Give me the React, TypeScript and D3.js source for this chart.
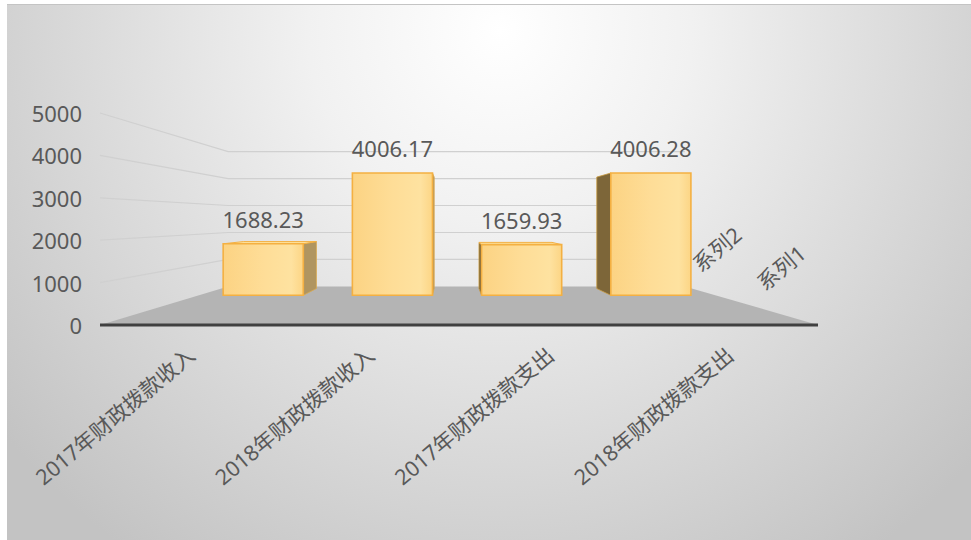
import React from 'react';
import * as d3 from 'd3';

const categories = ['2017年财政拨款收入', '2018年财政拨款收入', '2017年财政拨款支出', '2018年财政拨款支出'];
const seriesNames = ['系列1', '系列2'];
const series2Values = [1688.23, 4006.17, 1659.93, 4006.28];
const yTicks = [0, 1000, 2000, 3000, 4000, 5000];

const W = 971;
const H = 540;
const FONT = "'Noto Sans', 'Noto Sans CJK SC', sans-serif";
const TEXT = '#595959';

export default function App() {
  const x = d3.scaleBand<string>().domain(categories).range([100, 818]);
  const y = d3.scaleLinear().domain([0, 5000]).range([325, 113]);
  const zBack = 1 / 0.636 - 1;
  const z = d3.scaleBand<string>().domain(seriesNames).range([0, zBack]);
  const VP = [452, 219];
  const proj = (X: number, V: number, Z: number): [number, number] => {
    const s = 1 / (1 + Z);
    return [VP[0] + s * (X - VP[0]), VP[1] + s * (y(V) - VP[1])];
  };
  const poly = (pts: [number, number][]) => pts.map((p) => p[0].toFixed(2) + ',' + p[1].toFixed(2)).join(' ');
  const X0 = 100, X1 = 818;

  const floor = poly([proj(X0, 0, 0), proj(X1, 0, 0), proj(X1, 0, zBack), proj(X0, 0, zBack)]);

  const bw = x.bandwidth();
  const zb = z.bandwidth();
  const bars = categories.map((c, i) => {
    const v = series2Values[i];
    const a = (x(c) as number) + bw * 0.19;
    const b = a + bw * 0.62;
    const z0 = (z('系列2') as number) + zb * 0.36;
    const z1 = z0 + zb * 0.47;
    const front = [proj(a, 0, z0), proj(b, 0, z0), proj(b, v, z0), proj(a, v, z0)] as [number, number][];
    const top = [proj(a, v, z0), proj(b, v, z0), proj(b, v, z1), proj(a, v, z1)] as [number, number][];
    const left = [proj(a, 0, z0), proj(a, v, z0), proj(a, v, z1), proj(a, 0, z1)] as [number, number][];
    const right = [proj(b, 0, z0), proj(b, v, z0), proj(b, v, z1), proj(b, 0, z1)] as [number, number][];
    return {
      c, v, front, top, left, right,
      showTop: y(v) > VP[1],
      showLeft: a > VP[0],
      showRight: b < VP[0],
      labelX: (front[2][0] + front[3][0]) / 2,
      labelY: front[3][1] - 16,
    };
  });

  const seriesLabels = seriesNames.map((s) => {
    const zc = (z(s) as number) + zb / 2;
    const p = proj(X1, 0, zc);
    return { s, x: p[0] - 7, y: p[1] - 20 };
  });

  return (
    <svg width={W} height={H} style={{ position: 'absolute', left: 0, top: 0 }} fontFamily={FONT}>
      <defs>
        <radialGradient id="bg" gradientUnits="userSpaceOnUse" cx={500} cy={30} r={640}>
          <stop offset="0" stopColor="#ffffff" />
          <stop offset="0.3" stopColor="#f1f1f1" />
          <stop offset="1" stopColor="#c3c3c3" />
        </radialGradient>
        <linearGradient id="front" x1="0" x2="1" y1="0" y2="0">
          <stop offset="0" stopColor="#fcd383" />
          <stop offset="0.5" stopColor="#fedd97" />
          <stop offset="0.85" stopColor="#fee2a0" />
          <stop offset="1" stopColor="#fcd585" />
        </linearGradient>
      </defs>
      <rect x={0} y={0} width={W} height={H} fill="#ffffff" />
      <rect x={7} y={4} width={W - 7} height={H - 4} fill="url(#bg)" />
      <line x1={7} x2={W} y1={4.5} y2={4.5} stroke="#c4c4c4" strokeWidth={1} />

      {/* gridlines: left wall + back wall */}
      {yTicks.filter((t) => t > 0).map((t) => {
        const p0 = proj(X0, t, 0);
        const p1 = proj(X0, t, zBack);
        const p2 = proj(X1, t, zBack);
        return (
          <polyline key={t} points={poly([p0, p1, p2])} fill="none" stroke="#d0d0d0" strokeWidth={1.2} />
        );
      })}

      <polygon points={floor} fill="#b4b4b4" />
      <line x1={X0} x2={X1} y1={y(0)} y2={y(0)} stroke="#404040" strokeWidth={3} />

      {/* y tick labels */}
      {yTicks.map((t) => (
        <text key={t} x={82} y={y(t)} textAnchor="end" dominantBaseline="central" fontSize={22} fill={TEXT}>
          {t}
        </text>
      ))}

      {/* bars */}
      {bars.map((b) => (
        <g key={b.c}>
          {b.showLeft && <polygon points={poly(b.left)} fill="#7d6639" stroke="#c99a40" strokeWidth={0.8} />}
          {b.showRight && <polygon points={poly(b.right)} fill="#b09560" stroke="#d9a84c" strokeWidth={0.8} />}
          {b.showTop && <polygon points={poly(b.top)} fill="#fde3a0" stroke="#f4b042" strokeWidth={1} />}
          <polygon points={poly(b.front)} fill="url(#front)" stroke="#f4b042" strokeWidth={1.6} />
          <text x={b.labelX} y={b.labelY} textAnchor="middle" fontSize={22} fill={TEXT}>
            {b.v.toFixed(2)}
          </text>
        </g>
      ))}

      {/* category labels */}
      {categories.map((c) => {
        const cx = (x(c) as number) + bw / 2 + 7;
        const cy = 358;
        return (
          <text key={c} transform={`translate(${cx},${cy}) rotate(-40)`} textAnchor="end" fontSize={21.5} fill={TEXT}>
            {c}
          </text>
        );
      })}

      {/* series labels */}
      {seriesLabels.map((s) => (
        <text key={s.s} transform={`translate(${s.x},${s.y}) rotate(-40)`} textAnchor="start" fontSize={21.5} fill={TEXT}>
          {s.s}
        </text>
      ))}
    </svg>
  );
}
